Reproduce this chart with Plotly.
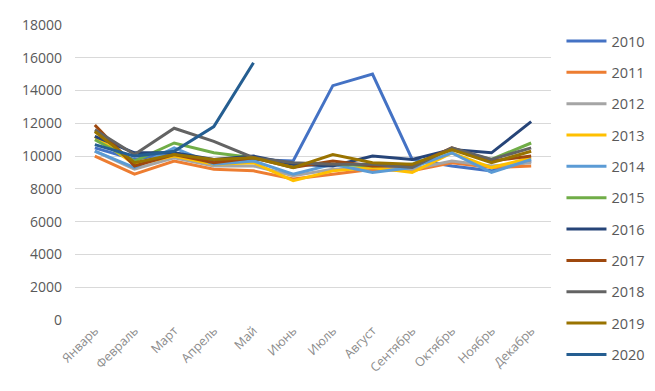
import plotly.graph_objects as go

months = ["Январь", "Февраль", "Март", "Апрель", "Май", "Июнь", "Июль",
          "Август", "Сентябрь", "Октябрь", "Ноябрь", "Декабрь"]

y2010 = [10500, 9800, 10200, 9700, 9800, 9700, 14300, 15000, 9800, 9400, 9100, 9700]
y2011 = [10000, 8900, 9700, 9200, 9100, 8600, 8900, 9200, 9100, 9600, 9300, 9400]
y2012 = [10300, 9200, 9900, 9400, 9400, 8800, 9200, 9300, 9200, 9700, 9400, 9600]
y2013 = [11200, 9500, 10000, 9500, 9600, 8500, 9100, 9300, 9000, 10200, 9300, 9900]
y2014 = [10300, 9300, 10500, 9500, 9700, 8900, 9500, 9000, 9300, 10200, 9000, 9800]
y2015 = [11000, 9700, 10800, 10200, 9900, 9500, 9500, 9400, 9500, 10400, 9800, 10800]
y2016 = [11200, 10200, 10200, 9800, 10000, 9500, 9400, 10000, 9800, 10400, 10200, 12100]
y2017 = [11900, 9400, 10100, 9600, 9900, 9300, 9700, 9400, 9400, 10500, 9700, 10000]
y2018 = [11600, 10100, 11700, 10900, 9900, 9600, 9500, 9500, 9300, 10500, 9800, 10500]
y2019 = [11500, 9600, 10100, 9800, 9900, 9300, 10100, 9600, 9500, 10400, 9600, 10300]
y2020 = [10700, 10000, 10300, 11800, 15700]

years = ["2010", "2011", "2012", "2013", "2014", "2015", "2016", "2017", "2018", "2019", "2020"]
series = [y2010, y2011, y2012, y2013, y2014, y2015, y2016, y2017, y2018, y2019, y2020]
colors = ["#4472C4", "#ED7D31", "#A5A5A5", "#FFC000", "#5B9BD5", "#70AD47",
          "#264478", "#9E480E", "#636363", "#997300", "#255E91"]

fig = go.Figure()
for name, vals, c in zip(years, series, colors):
    fig.add_trace(go.Scatter(
        x=months[:len(vals)], y=vals, name=name, mode="lines",
        line=dict(color=c, width=3), legendgroup=name,
    ))

fig.update_layout(
    width=655, height=391,
    margin=dict(l=67, r=112, t=17, b=79, autoexpand=False),
    paper_bgcolor="white", plot_bgcolor="white",
    font=dict(family="Open Sans, Liberation Sans, sans-serif", color="#595959", size=13),
    showlegend=True,
    legend=dict(x=1.022, y=1.0, xanchor="left", yanchor="top",
                font=dict(size=14.5, color="#595959"), tracegroupgap=9.5,
                itemwidth=40, bgcolor="rgba(0,0,0,0)", maxheight=420),
    xaxis=dict(showgrid=False, tickangle=-45, tickfont=dict(size=12.5, color="#8c8c8c"),
               showline=False, zeroline=False, ticks="", automargin=False,
               range=[-0.5, 11.5]),
    yaxis=dict(range=[0, 18000], dtick=2000, tickformat="d", showgrid=True,
               gridcolor="#D9D9D9", gridwidth=1, zeroline=False,
               tickfont=dict(size=14, color="#595959"), ticks="",
               ticklabelstandoff=12, automargin=False),
)

fig.write_html("out.html")
